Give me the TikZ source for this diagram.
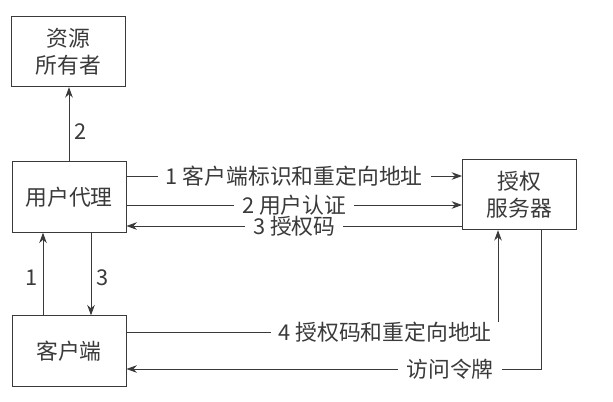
\documentclass[tikz,border=0pt]{standalone}
\usepackage{fontspec}
\setmainfont{Noto Sans CJK SC}
\usetikzlibrary{arrows.meta}
\definecolor{ink}{HTML}{3A3A3A}

\begin{document}
\begin{tikzpicture}[x=0.25mm,y=-0.25mm,font=\fontsize{15.5}{19}\selectfont,>={Stealth[length=2.6mm,width=1.9mm]}]
\tikzset{box/.style={draw=ink,line width=.7pt,text=ink,align=center,minimum width=28.5mm,minimum height=17.6mm,inner sep=0pt},
  link/.style={draw=ink,line width=.6pt},
  tag/.style={text=ink,fill=white,inner xsep=2mm,inner ysep=0pt},
  num/.style={text=ink,inner sep=1.2mm}}
\useasboundingbox (0,0) rectangle (613,401);

\node[box] (owner) at (68.5,51.5) {资源\\所有者};
\node[box] (agent) at (69,197) {用户代理};
\node[box] (client) at (69,351) {客户端};
\node[box] (server) at (519.5,194.5) {授权\\服务器};

% rows of the three agent--server messages
\coordinate (r1) at (0,176);
\coordinate (r2) at (0,205);
\coordinate (r3) at (0,226);

\draw[link,->] (agent.north) -- node[num,pos=.4,right] {2} (agent.north |- owner.south);
\draw[link,->] ([xshift=-6.5mm]client.north) -- node[num,pos=.45,left] {1} ([xshift=-6.5mm]agent.south);
\draw[link,->] ([xshift=5.5mm]agent.south) -- node[num,pos=.55,right] {3} ([xshift=5.5mm]client.north);

\draw[link,->] (agent.east |- r1) -- node[tag,midway] {1 客户端标识和重定向地址} (server.west |- r1);
\draw[link,->] (agent.east |- r2) -- node[tag,midway] {2 用户认证} (server.west |- r2);
\draw[link,->] (server.west |- r3) -- node[tag,midway] {3 授权码} (agent.east |- r3);

\coordinate (bend4) at (498,332);
\draw[link,->] (client.east |- bend4) -- (bend4) -- (bend4 |- server.south);
\node[tag,anchor=east] (code) at ([xshift=.5mm]bend4) {4 授权码和重定向地址};

\coordinate (bend5) at (541,369);
\draw[link,->] (bend5 |- server.south) -- (bend5) -- (client.east |- bend5);
\node[tag] (token) at (450,369) {访问令牌};
\end{tikzpicture}
\end{document}
